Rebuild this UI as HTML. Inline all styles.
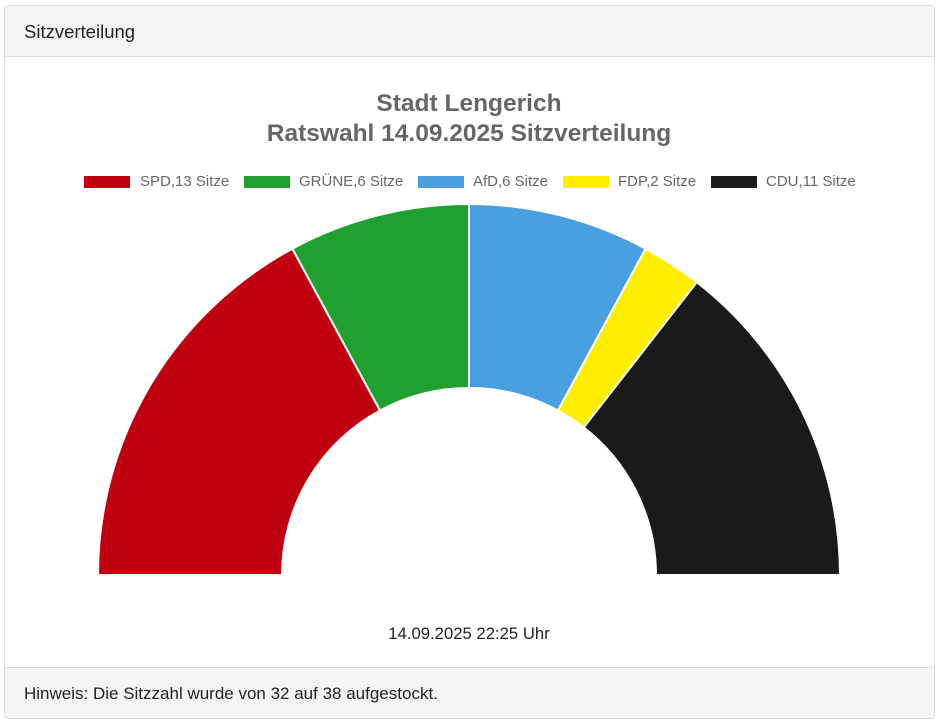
<!DOCTYPE html>
<html><head><meta charset="utf-8"><style>
body{margin:0;background:#fff;font-family:"Liberation Sans",sans-serif;}
.card{position:absolute;left:4px;top:5px;width:929px;height:712px;border:1px solid #ddd;border-radius:4px;overflow:hidden;}
.hd{position:absolute;left:0;top:0;width:100%;height:50px;background:#f5f5f5;border-bottom:1px solid #ddd;}
.hd span{position:absolute;left:19px;top:15px;font-size:18.5px;color:#222;}
.ft{position:absolute;left:0;top:661px;width:100%;height:51px;background:#f5f5f5;border-top:1px solid #ddd;}
.ft span{position:absolute;left:19px;top:16px;font-size:17px;color:#222;}
svg{position:absolute;left:0;top:0;}
</style></head><body>
<div class="card"><div class="hd"><span>Sitzverteilung</span></div><div class="ft"><span>Hinweis: Die Sitzzahl wurde von 32 auf 38 aufgestockt.</span></div></div>
<svg width="941" height="724" font-family="Liberation Sans, sans-serif">
<text x="469" y="111" text-anchor="middle" font-size="24.5" font-weight="bold" fill="#666">Stadt Lengerich</text>
<text x="469" y="141" text-anchor="middle" font-size="24.5" font-weight="bold" fill="#666">Ratswahl 14.09.2025 Sitzverteilung</text>
<g font-size="15" fill="#666">
<rect x="84" y="176" width="46" height="12" fill="#c00010"/><text x="140" y="186">SPD,13 Sitze</text>
<rect x="244" y="176" width="46" height="12" fill="#20a030"/><text x="299" y="186">GRÜNE,6 Sitze</text>
<rect x="418" y="176" width="46" height="12" fill="#48a0e0"/><text x="473" y="186">AfD,6 Sitze</text>
<rect x="563" y="176" width="46" height="12" fill="#ffee00"/><text x="618" y="186">FDP,2 Sitze</text>
<rect x="711" y="176" width="46" height="12" fill="#1a1a1a"/><text x="766" y="186">CDU,11 Sitze</text>
</g>
<g stroke="#fff" stroke-width="2">
<path d="M98,575 A371,371 0 0 1 292.4,248.7 L380,410.5 A187,187 0 0 0 282,575 Z" fill="#c00010"/>
<path d="M292.4,248.7 A371,371 0 0 1 469,204 L469,388 A187,187 0 0 0 380,410.5 Z" fill="#20a030"/>
<path d="M469,204 A371,371 0 0 1 645.6,248.7 L558,410.5 A187,187 0 0 0 469,388 Z" fill="#48a0e0"/>
<path d="M645.6,248.7 A371,371 0 0 1 696.8,282.2 L583.8,427.4 A187,187 0 0 0 558,410.5 Z" fill="#ffee00"/>
<path d="M696.8,282.2 A371,371 0 0 1 840,575 L656,575 A187,187 0 0 0 583.8,427.4 Z" fill="#1a1a1a"/>
</g>
<text x="469" y="639" text-anchor="middle" font-size="16.7" fill="#222">14.09.2025 22:25 Uhr</text>
</svg>
</body></html>
